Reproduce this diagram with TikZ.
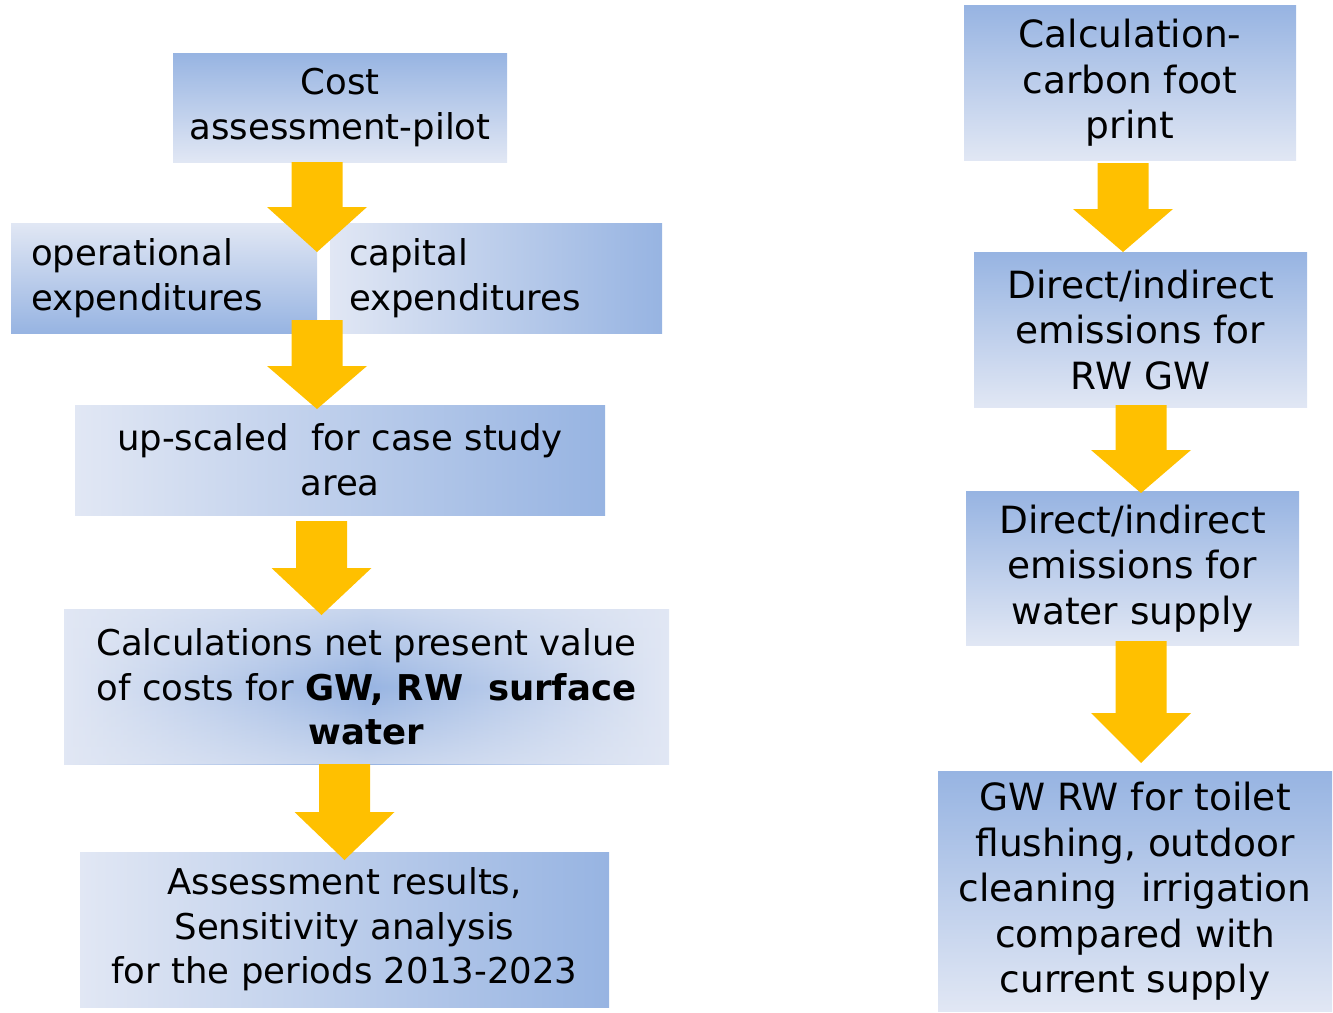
\documentclass[tikz,border=0pt]{standalone}
\usepackage{fontspec}
\setmainfont{DejaVu Sans}
\usetikzlibrary{calc,fadings}
\definecolor{boxdark}{RGB}{151,180,226}
\definecolor{boxlight}{RGB}{225,231,244}
\definecolor{gold}{RGB}{255,192,0}
% linear fills running across the whole box (the box spans 25bp..75bp)
\pgfdeclareverticalshading{fadedown}{100bp}{color(0bp)=(boxlight); color(25bp)=(boxlight); color(75bp)=(boxdark); color(100bp)=(boxdark)}
\pgfdeclareverticalshading{fadeup}{100bp}{color(0bp)=(boxdark); color(25bp)=(boxdark); color(75bp)=(boxlight); color(100bp)=(boxlight)}
\pgfdeclarehorizontalshading{faderight}{100bp}{color(0bp)=(boxlight); color(25bp)=(boxlight); color(75bp)=(boxdark); color(100bp)=(boxdark)}
\pgfdeclarehorizontalshading{glowmid}{100bp}{color(0bp)=(boxlight); color(25bp)=(boxlight); color(50bp)=(boxdark); color(75bp)=(boxlight); color(100bp)=(boxlight)}
\tikzfading[name=rimfade, top color=transparent!35, bottom color=transparent!35, middle color=transparent!100]
\newcommand{\flowarrow}[3]{% top centre, head y-offset, tip y-offset
  \fill[gold] (#1) ++(-25.5,0) -- ++(0,#2) -- ++(-24.5,0) -- ($(#1)+(0,#3)$) -- ($(#1)+(50,#2)$) -- ++(-24.5,0) -- ($(#1)+(25.5,0)$) -- cycle;}
\tikzset{
  box/.style={rectangle, inner sep=0pt, align=center,
    font=\fontsize{35.5}{44.5}\selectfont},
  rbox/.style={box, font=\fontsize{37.5}{45.5}\selectfont},
  vdown/.style={shading=fadedown},
  vup/.style={shading=fadeup},
  hright/.style={shading=faderight},
  centreglow/.style={shading=glowmid, path picture={
    \fill[boxlight, path fading=rimfade]
      (path picture bounding box.south west) rectangle (path picture bounding box.north east);}},
}
\begin{document}
\begin{tikzpicture}[x=1pt, y=-1pt]
\useasboundingbox (0,0) rectangle (1333,1012);

% left column: cost assessment
\node[box, vdown, minimum width=334pt, minimum height=109pt] (cost) at (340,107.5)
  {Cost\\assessment-pilot};
\node[box, vup, minimum width=306pt, minimum height=110pt, text width=266pt,
  inner xsep=20pt, align=left] (opex) at (164,278)
  {operational\\expenditures};
\node[box, hright, minimum width=332pt, minimum height=110pt, text width=294pt,
  inner xsep=19pt, align=left] (capex) at (496,278)
  {capital\\expenditures};
\node[box, hright, minimum width=530pt, minimum height=110pt] (scale) at (340,460)
  {up-scaled\ \ for case study\\area};
\node[box, centreglow, minimum width=605pt, minimum height=155pt] (npv) at (366.5,687)
  {Calculations net present value\\of costs for \textbf{GW,\ RW\ \ surface}\\\textbf{water}};
\node[box, hright, minimum width=529pt, minimum height=155pt] (result) at (344.5,929.5)
  {Assessment results,\\Sensitivity analysis\\for the periods 2013-2023};

% right column: carbon footprint
\node[rbox, vdown, minimum width=332pt, minimum height=155pt] (carbon) at (1130,83)
  {Calculation-\\carbon foot\\print};
\node[rbox, vdown, minimum width=333pt, minimum height=155pt] (emrw) at (1140.5,330)
  {Direct/indirect\\emissions for\\RW GW};
\node[rbox, vdown, minimum width=333pt, minimum height=154pt] (emws) at (1132.5,568.5)
  {Direct/indirect\\emissions for\\water supply};
\node[rbox, vdown, minimum width=394pt, minimum height=240pt] (compare) at (1135,891.5)
  {GW RW for toilet\\flushing, outdoor\\cleaning\ \ irrigation\\compared with\\current supply};

% block arrows between the steps
\coordinate (a1) at (317,162);
\coordinate (a2) at (317,320);
\coordinate (a3) at (321.5,521);
\coordinate (a4) at (344.5,764);
\coordinate (a5) at (1123,163);
\coordinate (a6) at (1141,405);
\coordinate (a7) at (1141,641);
\flowarrow{a1}{45}{90}
\flowarrow{a2}{46}{89}
\flowarrow{a3}{47}{94}
\flowarrow{a4}{48}{96}
\flowarrow{a5}{46}{89}
\flowarrow{a6}{45}{88}
\flowarrow{a7}{72}{122}
\end{tikzpicture}
\end{document}
